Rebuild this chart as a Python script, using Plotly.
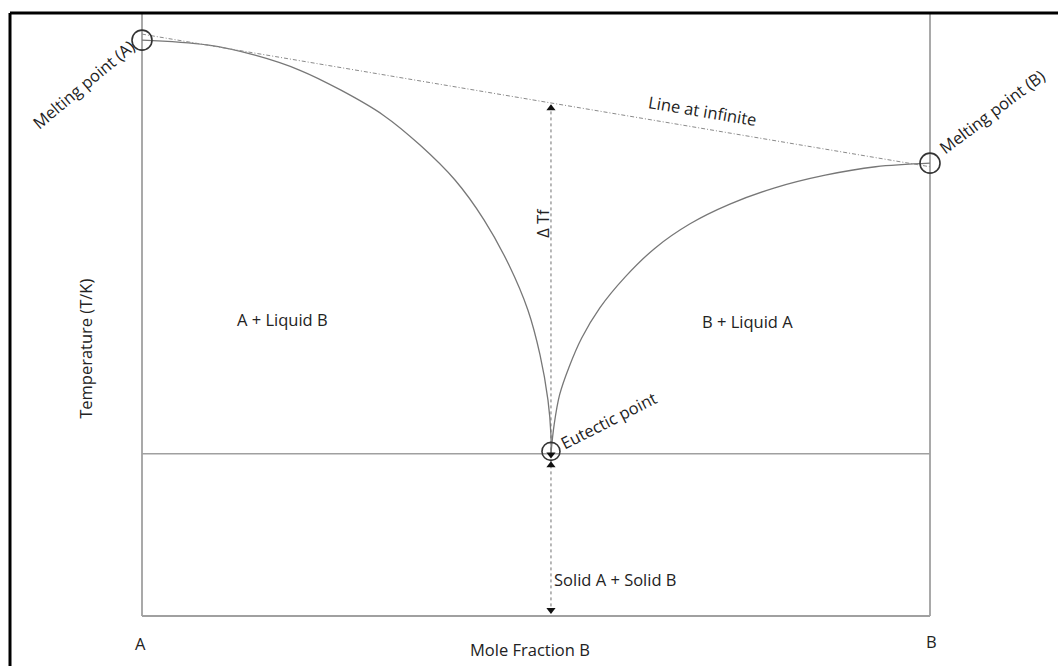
import plotly.graph_objects as go

# ---------------- data (T in arbitrary units, 0 = bottom of frame) ----------------
# liquidus of A (left branch, from melting point of A down to the eutectic)
comp_liq_A = [0.0, 0.0825, 0.1434, 0.2005, 0.2525, 0.3058, 0.3528, 0.3972, 0.4340, 0.4657, 0.4898, 0.5051, 0.5152, 0.519, 0.519]
T_liq_A = [95.5, 94.7, 93.0, 90.5, 87.2, 83.1, 78.1, 72.3, 65.7, 58.2, 50.7, 43.3, 35.8, 30.0, 27.0]
# liquidus of B (right branch, from the eutectic up to melting point of B)
comp_liq_B = [0.519, 0.523, 0.530, 0.542, 0.558, 0.581, 0.613, 0.651, 0.695, 0.746, 0.803, 0.867, 0.931, 1.0]
T_liq_B = [27.0, 31.7, 36.7, 41.3, 46.1, 51.1, 56.2, 61.0, 65.0, 68.3, 71.0, 73.1, 74.5, 75.1]

# special points
comp_melt = [0.0, 1.0]
T_melt = [95.5, 75.1]
comp_eut = 0.519
T_eut = 26.9

# "line at infinite" (ideal line between the melting points)
comp_inf = [0.0, 1.0]
T_inf = [96.5, 74.5]
T_inf_at_eut = 85.1

T_frame_top = 100.0
T_frame_bottom = 0.0

region_labels = ["A + Liquid B", "B + Liquid A", "Solid A + Solid B"]
point_labels = ["Melting point (A)", "Melting point (B)", "Eutectic point"]
x_tick_labels = ["A", "B"]
x_title = "Mole Fraction B"
y_title = "Temperature (T/K)"

# ---------------- figure ----------------
W, H = 1058, 666
PX0, PX1 = 142, 930      # pixel of comp 0 and 1
PY0, PY100 = 616, 13     # pixel of T 0 and T 100
sx = (PX1 - PX0)
sy = (PY0 - PY100) / 100.0
x_range = [-PX0 / sx, (W - PX0) / sx]
y_range = [(PY0 - H) / sy, PY0 / sy]

FONT = "Open Sans"
FS = 16.5
frame_col = "#a0a0a0"
curve_col = "#777777"

fig = go.Figure()

# liquidus curves
for cx, cy in ((comp_liq_A, T_liq_A), (comp_liq_B, T_liq_B)):
    fig.add_trace(go.Scatter(x=cx, y=cy, mode="lines",
                             line=dict(color=curve_col, width=1.3, shape="spline", smoothing=1.0),
                             hoverinfo="skip", showlegend=False))

# line at infinite
fig.add_trace(go.Scatter(x=comp_inf, y=T_inf, mode="lines",
                         line=dict(color="#8a8a8a", width=1, dash="4px,2px,1px,2px"),
                         hoverinfo="skip", showlegend=False))

# delta Tf arrow (dotted) and lower arrow
fig.add_trace(go.Scatter(x=[comp_eut, comp_eut], y=[T_frame_bottom + 0.6, T_inf_at_eut], mode="lines",
                         line=dict(color="#707070", width=1, dash="dot"),
                         hoverinfo="skip", showlegend=False))
fig.add_trace(go.Scatter(x=[comp_eut, comp_eut], y=[T_inf_at_eut - 0.9, T_eut - 1.9],
                         mode="markers", marker=dict(symbol="triangle-up", size=8, color="#111"),
                         hoverinfo="skip", showlegend=False, cliponaxis=False))
fig.add_trace(go.Scatter(x=[comp_eut, comp_eut], y=[T_eut - 0.1, T_frame_bottom + 1.0],
                         mode="markers", marker=dict(symbol="triangle-down", size=8, color="#111"),
                         hoverinfo="skip", showlegend=False, cliponaxis=False))

# circles
fig.add_trace(go.Scatter(x=comp_melt, y=T_melt, mode="markers",
                         marker=dict(symbol="circle-open", size=20, color="#333", line=dict(width=1.6)),
                         hoverinfo="skip", showlegend=False, cliponaxis=False))
fig.add_trace(go.Scatter(x=[comp_eut], y=[T_eut + 0.4], mode="markers",
                         marker=dict(symbol="circle-open", size=18, color="#333", line=dict(width=1.6)),
                         hoverinfo="skip", showlegend=False, cliponaxis=False))

# frame lines
bx = 10 / W
by = 1 - 13 / H
shapes = [
    dict(type="line", xref="x", yref="y", x0=0, x1=0, y0=T_frame_bottom, y1=T_frame_top,
         line=dict(color=frame_col, width=1.8), layer="below"),
    dict(type="line", xref="x", yref="y", x0=1, x1=1, y0=T_frame_bottom, y1=T_frame_top,
         line=dict(color=frame_col, width=1.8), layer="below"),
    dict(type="line", xref="x", yref="y", x0=0, x1=1, y0=T_frame_bottom, y1=T_frame_bottom,
         line=dict(color=frame_col, width=1.8), layer="below"),
    dict(type="line", xref="x", yref="y", x0=0, x1=1, y0=T_eut, y1=T_eut,
         line=dict(color=frame_col, width=1.6), layer="below"),
    # outer black border (only left and top edges are inside the picture)
    dict(type="line", xref="paper", yref="paper", x0=bx, x1=bx, y0=0, y1=by,
         line=dict(color="#000", width=3)),
    dict(type="line", xref="paper", yref="paper", x0=bx, x1=1, y0=by, y1=by,
         line=dict(color="#000", width=3)),
]

def ann(text, x, y, angle=0, size=FS):
    return dict(text=text, x=x, y=y, xref="x", yref="y", showarrow=False, textangle=angle,
                font=dict(family=FONT, size=size, color="#222"), xanchor="center", yanchor="middle")

annotations = [
    ann(point_labels[0], -0.0749, 88.2, -40),
    ann(point_labels[1], 1.0787, 83.6, -37),
    ann(point_labels[2], 0.5914, 32.5, -27),
    ann("Line at infinite", 0.7107, 83.9, 9.5),
    ann("Δ Tf", 0.5089, 65.2, -90),
    ann(region_labels[0], 0.1777, 49.1),
    ann(region_labels[1], 0.7678, 48.8),
    ann(region_labels[2], 0.6003, 6.1),
    ann(x_title, 0.4924, -5.6),
    ann(x_tick_labels[0], -0.0025, -4.5),
    ann(x_tick_labels[1], 1.0025, -4.3),
    ann(y_title, -0.0711, 44.3, -90),
]

fig.update_layout(
    width=W, height=H,
    margin=dict(l=0, r=0, t=0, b=0),
    paper_bgcolor="white", plot_bgcolor="white",
    xaxis=dict(range=x_range, visible=False, fixedrange=True),
    yaxis=dict(range=y_range, visible=False, fixedrange=True),
    shapes=shapes, annotations=annotations,
    showlegend=False,
)

# remove the default page margin so the 1058x666 figure fills the window exactly
fig.write_html("out.html",
               config={"displayModeBar": False},
               post_script="document.body.style.margin='0';document.body.style.overflow='hidden';")
